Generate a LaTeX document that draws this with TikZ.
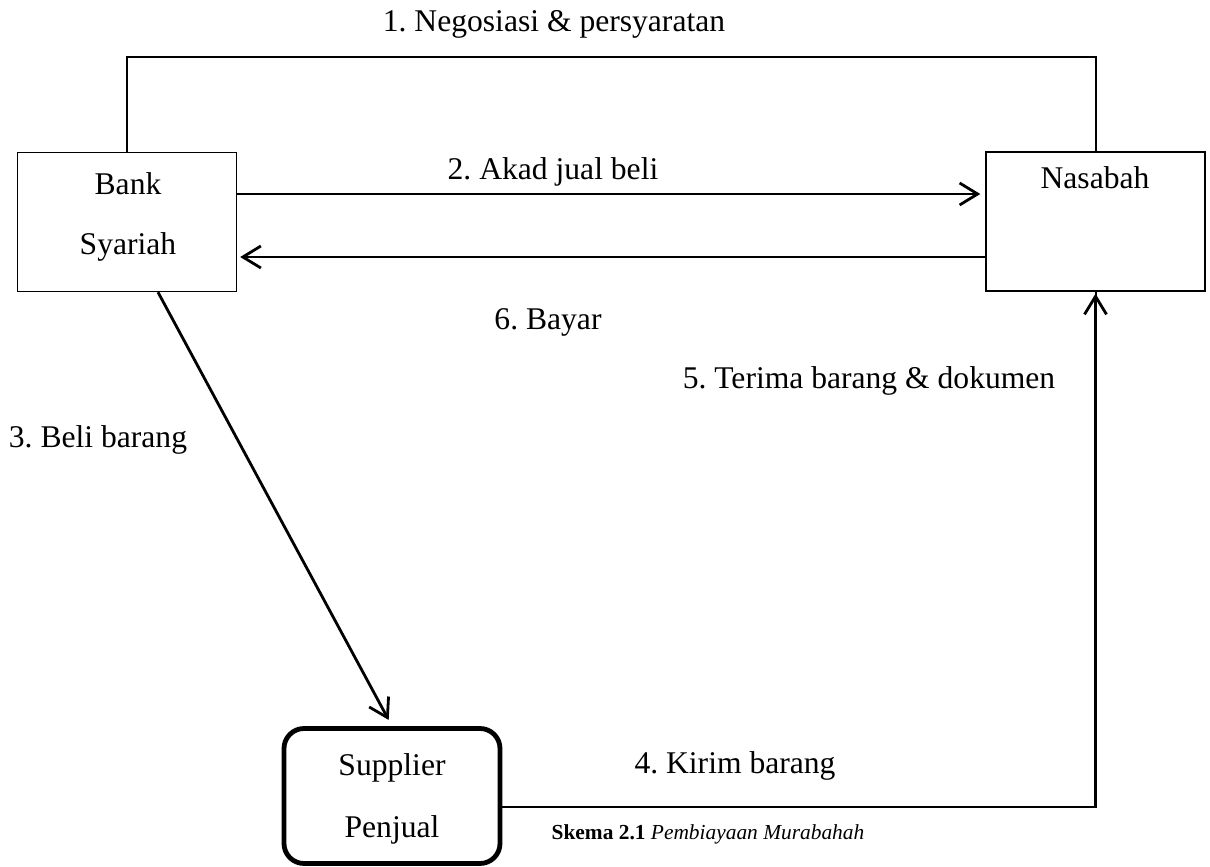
\documentclass[tikz,border=0pt]{standalone}
\usepackage{fontspec}
\setmainfont{Liberation Serif}
\usetikzlibrary{arrows.meta}
\frenchspacing
\begin{document}
\begin{tikzpicture}[x=0.5pt,y=-0.5pt,
  lbl/.style={font=\frenchspacing\fontsize{15.8pt}{19pt}\selectfont, inner sep=0pt, text height=7.5pt, text depth=2.5pt},
  ml/.style={font=\fontsize{15.8pt}{30pt}\selectfont, inner sep=0pt, align=center},
  box/.style={draw, line width=0.7pt, minimum width=109.5pt, minimum height=69.5pt, inner sep=0pt},
  conn/.style={line width=1pt},
  arr/.style={line width=1.4pt, -{Straight Barb[length=9pt,width=11pt,line width=1.4pt]}}
]
\useasboundingbox (0,0) rectangle (1210,867);
% boxes
\node[box] (bank) at (127,222) {};
\node[ml] (banktxt) at (128,217) {Bank\\Syariah};
\node[box] (nas) at (1095.5,221.5) {};
\node[lbl] (nastxt) at (1095,183) {Nasabah};
\node[draw, line width=2.4pt, rounded corners=10pt, minimum width=108pt, minimum height=67.5pt,
      ml, font=\fontsize{15.8pt}{31pt}\selectfont] (sup) at (392,796) {};
\node[ml, font=\fontsize{15.8pt}{31pt}\selectfont] (suptxt) at (392,799) {Supplier\\Penjual};
% helper coordinates
\coordinate (t1) at (128,57);
\coordinate (a2) at (0,194);
\coordinate (a6) at (0,257);
\coordinate (s3) at (158,0);
\coordinate (c4) at (0,807);
% connectors
\draw[conn] (bank.north) -- (bank.north |- t1) -| (nas.north);
\draw[arr, shorten >=2.5pt] (bank.east |- a2) -- (nas.west |- a2);
\draw[arr, shorten >=1.5pt] (nas.west |- a6) -- (bank.east |- a6);
\draw[arr, shorten >=3.5pt] (bank.south -| s3) -- (sup.north);
\draw[conn] (sup.east |- c4) -| (nas.south);
\draw[arr, shorten >=1pt] (nas.south |- c4) -- (nas.south);
% labels
\node[lbl] (l1) at (554,27) {1. Negosiasi \& persyaratan};
\node[lbl] (l2) at (553,174) {2. Akad jual beli};
\node[lbl] (l6) at (548,324) {6. Bayar};
\node[lbl] (l5) at (869,383) {5. Terima barang \& dokumen};
\node[lbl] (l3) at (98,442) {3. Beli barang};
\node[lbl] (l4) at (735,768) {4. Kirim barang};
\node[font=\fontsize{10.7pt}{13pt}\selectfont, inner sep=0pt] (cap) at (708,834) {\textbf{Skema 2.1} \textit{Pembiayaan Murabahah}};
\end{tikzpicture}
\end{document}
